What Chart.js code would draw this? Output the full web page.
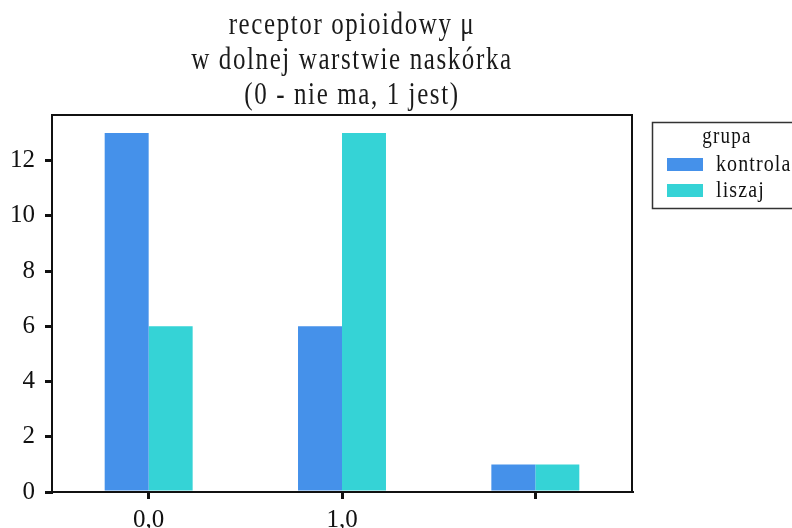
<!DOCTYPE html>
<html>
<head>
<meta charset="utf-8">
<script src="https://cdn.jsdelivr.net/npm/chart.js@4"></script>
<style>
  body { margin: 0; background: #fff; overflow: hidden; }
</style>
</head>
<body>
<canvas id="receptorChart" width="792" height="528"></canvas>
<script>
const categories = ['0,0', '1,0', ''];
const kontrola = [13, 6, 1];
const liszaj = [6, 13, 1];
const titleLines = ['receptor opioidowy \u03bc', 'w dolnej warstwie naskórka', '(0 - nie ma, 1 jest)'];
const legendTitle = 'grupa';

const serif = "'Liberation Serif', 'Times New Roman', serif";

// draw text slightly stretched vertically (tall, narrow lettering)
function tallText(ctx, text, x, y, stretch) {
  ctx.save();
  ctx.scale(1, stretch);
  ctx.fillText(text, x, y / stretch);
  ctx.restore();
}

// title above the plot
const titlePlugin = {
  id: 'tallTitle',
  beforeDraw(chart) {
    const { ctx } = chart;
    ctx.save();
    ctx.fillStyle = '#1a1a1a';
    ctx.font = '25px ' + serif;
    ctx.letterSpacing = '1.6px';
    ctx.textAlign = 'center';
    ctx.textBaseline = 'alphabetic';
    titleLines.forEach((line, i) => tallText(ctx, line, 352, 34 + i * 35, 1.25));
    ctx.restore();
  }
};

// frame round the plot area plus the boxed legend on the right
const framePlugin = {
  id: 'frame',
  afterDraw(chart) {
    const { ctx, chartArea: a } = chart;
    ctx.save();
    ctx.strokeStyle = '#111';
    ctx.lineWidth = 2;
    ctx.beginPath();
    ctx.moveTo(a.left, a.bottom);
    ctx.lineTo(a.left, a.top);
    ctx.lineTo(a.right, a.top);
    ctx.lineTo(a.right, a.bottom);
    ctx.stroke();

    // legend
    ctx.lineWidth = 1.5;
    ctx.strokeStyle = '#333';
    ctx.strokeRect(652.5, 122.5, 180, 86);
    ctx.fillStyle = '#111';
    ctx.textBaseline = 'alphabetic';
    ctx.textAlign = 'center';
    ctx.font = '19px ' + serif;
    ctx.letterSpacing = '1.2px';
    tallText(ctx, legendTitle, 727, 143, 1.2);
    ctx.textAlign = 'left';
    ctx.font = '20px ' + serif;
    ctx.letterSpacing = '1.1px';
    chart.data.datasets.forEach((ds, i) => {
      const y = 164 + i * 26;
      ctx.fillStyle = ds.backgroundColor;
      ctx.fillRect(667, y - 6, 36, 13);
      ctx.fillStyle = '#111';
      tallText(ctx, ds.label, 716, y + 7, 1.2);
    });
    ctx.restore();
  }
};

new Chart(document.getElementById('receptorChart').getContext('2d'), {
  type: 'bar',
  data: {
    labels: categories,
    datasets: [
      { label: 'kontrola', data: kontrola, backgroundColor: '#4591ea', borderWidth: 0 },
      { label: 'liszaj', data: liszaj, backgroundColor: '#35d3d6', borderWidth: 0 },
    ],
  },
  options: {
    responsive: false,
    animation: false,
    layout: { padding: { top: 115, right: 160, left: 0, bottom: 0 } },
    datasets: { bar: { categoryPercentage: 0.455, barPercentage: 1 } },
    plugins: {
      legend: { display: false },
      tooltip: { enabled: false },
      title: { display: false },
    },
    scales: {
      x: {
        offset: true,
        grid: { display: true, drawOnChartArea: false, offset: false, color: '#111', lineWidth: 3, tickLength: 7 },
        border: { display: true, color: '#111', width: 2 },
        ticks: { color: '#111', font: { family: serif, size: 25 }, padding: 6, maxRotation: 0 },
        afterFit(scale) { scale.height = 36; },
      },
      y: {
        min: 0,
        max: 13.65,
        grid: { display: true, drawOnChartArea: false, color: '#111', lineWidth: 3, tickLength: 7 },
        border: { display: true, color: '#111', width: 2 },
        ticks: { stepSize: 2, includeBounds: false, color: '#111', font: { family: serif, size: 25 }, padding: 10 },
        afterFit(scale) { scale.width = 52; },
      },
    },
  },
  plugins: [titlePlugin, framePlugin],
});
</script>
</body>
</html>
